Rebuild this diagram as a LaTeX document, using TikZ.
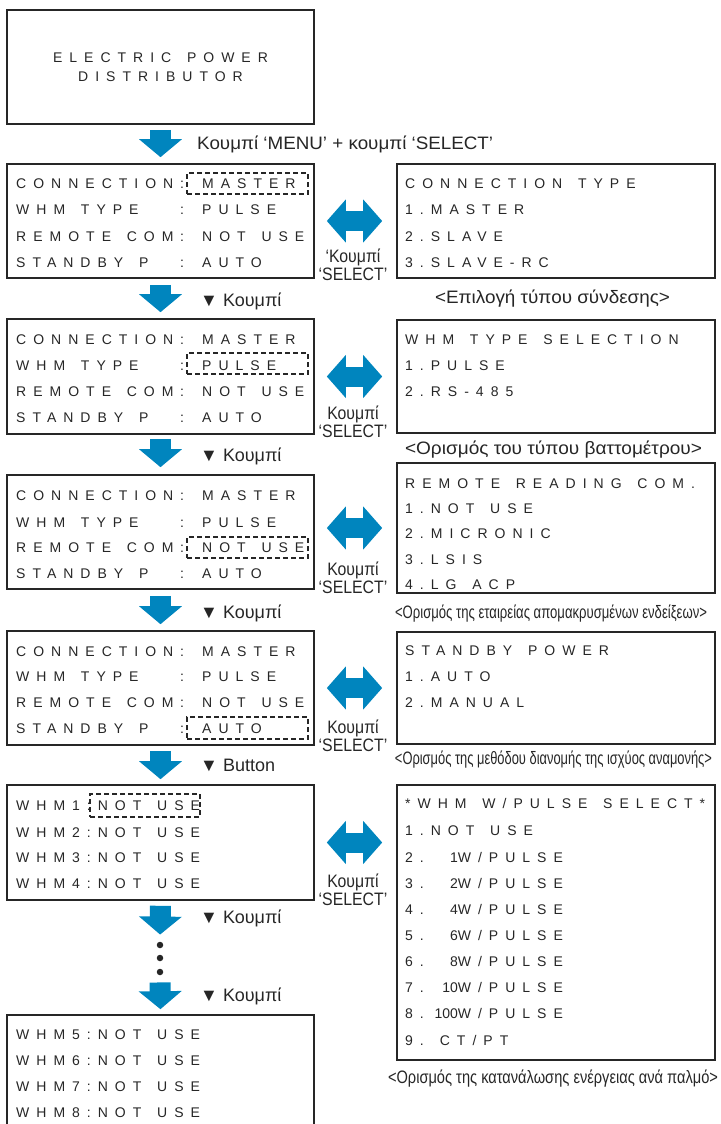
\documentclass[tikz,border=0pt]{standalone}
\usepackage{fontspec}
\setmainfont{Liberation Sans}
\newfontfamily\lcdfont[LetterSpace=50, WordSpace=1.45]{Liberation Sans}
\newfontfamily\lcdplain{Liberation Sans}
\newfontfamily\narrowfont[FakeStretch=0.88]{Liberation Sans}
\usetikzlibrary{arrows.meta}
\definecolor{keyblue}{RGB}{0,133,190}
\definecolor{ink}{RGB}{38,38,38}
\newcommand{\field}[2]{\makebox[186pt][l]{\makebox[164pt][l]{#1}:}#2}
\newcommand{\wnum}[1]{\makebox[34pt][r]{\lcdplain #1}}
\newcommand{\squeeze}[2]{\resizebox{#1}{\height}{#2}}

\tikzset{
  screen/.style={draw=ink, line width=1.6pt, inner sep=0pt},
  lcd/.style={font=\lcdfont\fontsize{14}{19}\selectfont, text=ink, text height=10pt, text depth=0pt, inner sep=0pt, anchor=west},
  cursor/.style={draw=ink, line width=1.8pt, dash pattern=on 5pt off 3pt, inner sep=0pt},
  hint/.style={font=\fontsize{18}{18}\selectfont, text=ink, text height=13pt, text depth=0pt, inner sep=0pt, anchor=west},
  caption/.style={font=\fontsize{18}{18}\selectfont, text=ink, text height=13pt, text depth=0pt, inner sep=0pt},
  keyname/.style={font=\narrowfont\fontsize{18}{18}\selectfont, text=ink, align=center, inner sep=0pt},
  down/.style={draw=keyblue, line width=21pt, -{Triangle[width=42pt,length=18pt]}},
  swap/.style={draw=keyblue, line width=20pt, {Triangle[width=42pt,length=19pt]}-{Triangle[width=42pt,length=19pt]}},
  dot/.style={circle, fill=ink, inner sep=0pt, minimum size=6.5pt}
}

\begin{document}
\begin{tikzpicture}[x=1pt, y=-1pt]

    \useasboundingbox (0,0) rectangle (720,1124);
    \clip (0,0) rectangle (720,1124);

    % Titulo
    \node[screen, minimum width=307pt, minimum height=114pt, align=center, font=\lcdfont\fontsize{14}{19}\selectfont, text=ink] (title) at (160.5,67) {ELECTRIC POWER\\DISTRIBUTOR};

    % Tela 1: connection
    \node[screen, minimum width=307pt, minimum height=114pt] (conn) at (160.5,221) {};
    \node[lcd] (conn1) at (16,183) {\field{CONNECTION}{MASTER}};
    \node[lcd] (conn2) at (16,209) {\field{WHM TYPE}{PULSE}};
    \node[lcd] (conn3) at (16,236) {\field{REMOTE COM}{NOT USE}};
    \node[lcd] (conn4) at (16,262) {\field{STANDBY P}{AUTO}};
    \node[cursor, minimum width=121pt, minimum height=21pt] (conncur) at (247.5,183.5) {};

    \node[screen, minimum width=318pt, minimum height=114pt] (connsel) at (556,221) {};
    \node[lcd] (connsel0) at (405,183) {CONNECTION TYPE};
    \node[lcd] (connsel1) at (405,209) {1.MASTER};
    \node[lcd] (connsel2) at (405,236) {2.SLAVE};
    \node[lcd] (connsel3) at (405,262) {3.SLAVE-RC};
    \node[caption] (conncap) at (552.5,297) {\squeeze{235pt}{<Επιλογή τύπου σύνδεσης>}};

    % Tela 2: tipo do medidor
    \node[screen, minimum width=307pt, minimum height=115pt] (whm) at (160.5,376.5) {};
    \node[lcd] (whm1) at (16,339) {\field{CONNECTION}{MASTER}};
    \node[lcd] (whm2) at (16,365) {\field{WHM TYPE}{PULSE}};
    \node[lcd] (whm3) at (16,391) {\field{REMOTE COM}{NOT USE}};
    \node[lcd] (whm4) at (16,417) {\field{STANDBY P}{AUTO}};
    \node[cursor, minimum width=121pt, minimum height=21pt] (whmcur) at (247.5,363.5) {};

    \node[screen, minimum width=318pt, minimum height=113pt] (whmsel) at (556,376.5) {};
    \node[lcd] (whmsel0) at (405,339) {WHM TYPE SELECTION};
    \node[lcd] (whmsel1) at (405,365) {1.PULSE};
    \node[lcd] (whmsel2) at (405,391) {2.RS-485};
    \node[caption] (whmcap) at (553.5,448) {\squeeze{297pt}{<Ορισμός του τύπου βαττομέτρου>}};

    % Tela 3: leitura remota
    \node[screen, minimum width=307pt, minimum height=114pt] (remote) at (160.5,532) {};
    \node[lcd] (remote1) at (16,495) {\field{CONNECTION}{MASTER}};
    \node[lcd] (remote2) at (16,522) {\field{WHM TYPE}{PULSE}};
    \node[lcd] (remote3) at (16,547) {\field{REMOTE COM}{NOT USE}};
    \node[lcd] (remote4) at (16,573) {\field{STANDBY P}{AUTO}};
    \node[cursor, minimum width=121pt, minimum height=21pt] (remotecur) at (247.5,547.5) {};

    \node[screen, minimum width=318pt, minimum height=130pt] (remotesel) at (556,528) {};
    \node[lcd] (remotesel0) at (405,483) {REMOTE READING COM.};
    \node[lcd] (remotesel1) at (405,508) {1.NOT USE};
    \node[lcd] (remotesel2) at (405,533) {2.MICRONIC};
    \node[lcd] (remotesel3) at (405,559) {3.LSIS};
    \node[lcd] (remotesel4) at (405,584) {4.LG ACP};
    \node[caption] (remotecap) at (551,612) {\squeeze{312pt}{<Ορισμός της εταιρείας απομακρυσμένων ενδείξεων>}};

    % Tela 4: standby
    \node[screen, minimum width=307pt, minimum height=114pt] (standby) at (160.5,688) {};
    \node[lcd] (standby1) at (16,651) {\field{CONNECTION}{MASTER}};
    \node[lcd] (standby2) at (16,676) {\field{WHM TYPE}{PULSE}};
    \node[lcd] (standby3) at (16,702) {\field{REMOTE COM}{NOT USE}};
    \node[lcd] (standby4) at (16,728) {\field{STANDBY P}{AUTO}};
    \node[cursor, minimum width=121pt, minimum height=22pt] (standbycur) at (247.5,728) {};

    \node[screen, minimum width=318pt, minimum height=112pt] (standbysel) at (556,688) {};
    \node[lcd] (standbysel0) at (405,650) {STANDBY POWER};
    \node[lcd] (standbysel1) at (405,676) {1.AUTO};
    \node[lcd] (standbysel2) at (405,702) {2.MANUAL};
    \node[caption] (standbycap) at (553.5,758) {\squeeze{317pt}{<Ορισμός της μεθόδου διανομής της ισχύος αναμονής>}};

    % Tela 5: medidores
    \node[screen, minimum width=307pt, minimum height=115pt] (meter) at (160.5,842.5) {};
    \node[lcd] (meter1) at (16,805) {WHM1:NOT USE};
    \node[lcd] (meter2) at (16,832) {WHM2:NOT USE};
    \node[lcd] (meter3) at (16,857) {WHM3:NOT USE};
    \node[lcd] (meter4) at (16,883) {WHM4:NOT USE};
    \node[cursor, minimum width=110pt, minimum height=23pt] (metercur) at (145,805.5) {};

    \node[screen, minimum width=318pt, minimum height=275pt] (pulsesel) at (556,922.5) {};
    \node[lcd] (pulsesel0) at (405,803) {*WHM W/PULSE SELECT*};
    \node[lcd] (pulsesel1) at (405,830) {1.NOT USE};
    \node[lcd] (pulsesel2) at (405,857) {2.\wnum{1}W/PULSE};
    \node[lcd] (pulsesel3) at (405,883) {3.\wnum{2}W/PULSE};
    \node[lcd] (pulsesel4) at (405,909) {4.\wnum{4}W/PULSE};
    \node[lcd] (pulsesel5) at (405,935) {5.\wnum{6}W/PULSE};
    \node[lcd] (pulsesel6) at (405,961) {6.\wnum{8}W/PULSE};
    \node[lcd] (pulsesel7) at (405,987) {7.\wnum{10}W/PULSE};
    \node[lcd] (pulsesel8) at (405,1013) {8.\wnum{100}W/PULSE};
    \node[lcd] (pulsesel9) at (405,1040) {9.\hspace{16pt}CT/PT};
    \node[caption] (pulsecap) at (553,1077) {\squeeze{330pt}{<Ορισμός της κατανάλωσης ενέργειας ανά παλμό>}};

    % Pontos
    \node[dot] (d1) at (160,945) {};
    \node[dot] (d2) at (160,958) {};
    \node[dot] (d3) at (160,972) {};

    % Tela 6: medidores 5-8
    \node[screen, minimum width=307pt, minimum height=115pt] (meterB) at (160.5,1072.5) {};
    \node[lcd] (meterB1) at (16,1034) {WHM5:NOT USE};
    \node[lcd] (meterB2) at (16,1060) {WHM6:NOT USE};
    \node[lcd] (meterB3) at (16,1086) {WHM7:NOT USE};
    \node[lcd] (meterB4) at (16,1112) {WHM8:NOT USE};

    % Setas para baixo
    \draw[down, shorten <=5pt, shorten >=6pt] (title.south) -- (conn.north);
    \draw[down, shorten <=6pt, shorten >=6pt] (conn.south) -- (whm.north);
    \draw[down, shorten <=4pt, shorten >=7pt] (whm.south) -- (remote.north);
    \draw[down, shorten <=6pt, shorten >=6pt] (remote.south) -- (standby.north);
    \draw[down, shorten <=5pt, shorten >=5pt] (standby.south) -- (meter.north);
    \draw[down, shorten <=5pt, shorten >=7pt] (meter.south) -- (d1.north);
    \draw[down, shorten <=7pt, shorten >=5pt] (d3.south) -- (meterB.north);

    % Textos das setas
    \node[hint] (menuhint) at (197,143) {\squeeze{296pt}{Κουμπί ‘MENU’ + κουμπί ‘SELECT’}};
    \node[hint] (hint2) at (200,300) {▼ Κουμπί};
    \node[hint] (hint3) at (200,455) {▼ Κουμπί};
    \node[hint] (hint4) at (200,612) {▼ Κουμπί};
    \node[hint] (hint5) at (200,765) {▼ Button};
    \node[hint] (hint6) at (200,917) {▼ Κουμπί};
    \node[hint] (hint7) at (200,995) {▼ Κουμπί};

    % Setas duplas
    \draw[swap, shorten <=12pt, shorten >=14pt] (conn.east) -- (connsel.west);
    \draw[swap, shorten <=12pt, shorten >=14pt] (whm.east) -- (whmsel.west);
    \draw[swap, shorten <=12pt, shorten >=14pt] (remote.east |- remotesel.west) -- (remotesel.west);
    \draw[swap, shorten <=12pt, shorten >=14pt] (standby.east) -- (standbysel.west);
    \draw[swap, shorten <=12pt, shorten >=14pt] (meter.east) -- (meter.east -| pulsesel.west);

    % Texto das setas duplas
    \node[keyname] (key1) at (353,265) {‘Κουμπί\\‘SELECT’};
    \node[keyname] (key2) at (353,422) {Κουμπί\\‘SELECT’};
    \node[keyname] (key3) at (353,577.5) {Κουμπί\\‘SELECT’};
    \node[keyname] (key4) at (353,736) {Κουμπί\\‘SELECT’};
    \node[keyname] (key5) at (353,890) {Κουμπί\\‘SELECT’};

\end{tikzpicture}
\end{document}
